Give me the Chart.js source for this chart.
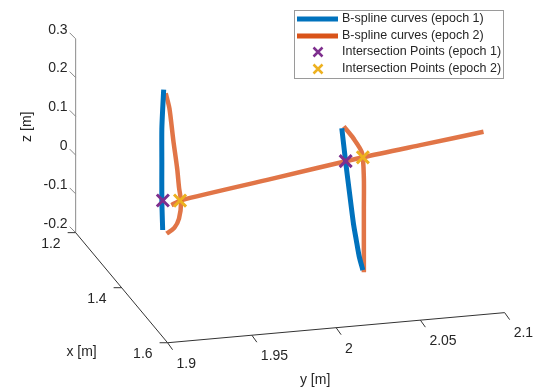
<!DOCTYPE html>
<html>
<head>
<meta charset="utf-8">
<script src="https://cdn.jsdelivr.net/npm/chart.js@4.4.1/dist/chart.umd.min.js"></script>
<style>
  html, body { margin: 0; padding: 0; background: #fff; }
  canvas { display: block; }
</style>
</head>
<body>
<canvas id="chart" width="542" height="390"></canvas>
<script>
// axis limits and tick values (metres)
const xLim = [1.2, 1.6];
const yLim = [1.9, 2.1];
const zLim = [-0.2, 0.3];
const xTicks = [1.2, 1.4, 1.6];
const yTicks = [1.9, 1.95, 2, 2.05, 2.1];
const zTicks = [-0.2, -0.1, 0, 0.1, 0.2, 0.3];
const xTickLabels = ["1.2", "1.4", "1.6"];
const yTickLabels = ["1.9", "1.95", "2", "2.05", "2.1"];
const zTickLabels = ["-0.2", "-0.1", "0", "0.1", "0.2", "0.3"];

// B-spline curves, epoch 1 : [x, y, z]
const epoch1Left = [
  [1.3, 1.9386, 0.225], [1.3, 1.9381, 0.184], [1.3, 1.9375, 0.123],
  [1.3, 1.9375, 0.038], [1.3, 1.9375, -0.059], [1.3, 1.9380, -0.137]
];
const epoch1Right = [
  [1.5, 2.0170, 0.237], [1.5, 2.0193, 0.149], [1.5, 2.0216, 0.068],
  [1.5, 2.0239, -0.011], [1.5, 2.0256, -0.055], [1.5, 2.0273, -0.097],
  [1.5, 2.0295, -0.134]
];
// B-spline curves, epoch 2
const epoch2Left = [
  [1.3, 1.9398, 0.215], [1.3, 1.9420, 0.175], [1.3, 1.9443, 0.092],
  [1.3, 1.9466, 0.018], [1.3, 1.9477, -0.031], [1.3, 1.9489, -0.070],
  [1.3, 1.9477, -0.111], [1.3, 1.9449, -0.134], [1.3, 1.9403, -0.147]
];
const epoch2Right = [
  [1.5, 2.0182, 0.241], [1.5, 2.0239, 0.208], [1.5, 2.0290, 0.169],
  [1.5, 2.0301, 0.103], [1.5, 2.0301, 0.023], [1.5, 2.0301, -0.057],
  [1.5, 2.0301, -0.140]
];
const epoch2Long = [
  [1.3, 1.9432, -0.075], [1.3, 1.9483, -0.065], [1.4, 1.9889, 0.046],
  [1.5, 2.0295, 0.157], [1.5, 2.0650, 0.176], [1.5, 2.1011, 0.195]
];
// intersection points
const inter1 = [[1.3, 1.9381, -0.061], [1.5, 2.0193, 0.151]];
const inter2 = [[1.3, 1.9483, -0.065], [1.5, 2.0295, 0.157]];

const legendLabels = [
  "B-spline curves (epoch 1)",
  "B-spline curves (epoch 2)",
  "Intersection Points (epoch 1)",
  "Intersection Points (epoch 2)"
];

const blue = "rgb(0,114,189)";
const orange = "rgba(217,83,25,0.8)";
const purple = "rgb(126,47,142)";
const yellow = "rgb(237,177,32)";
const textColor = "#262626";
const font = "14px 'Liberation Sans', Arial, sans-serif";

// camera: pixel offset of each full axis range from the (xmin,ymin,zmin) corner
const view = { ox: 67, oy: 235, vx: [96, 117], vy: [352, -32], vz: [0, -206] };

function project(p) {
  const fx = (p[0] - xLim[0]) / (xLim[1] - xLim[0]);
  const fy = (p[1] - yLim[0]) / (yLim[1] - yLim[0]);
  const fz = (p[2] - zLim[0]) / (zLim[1] - zLim[0]);
  return {
    x: view.ox + fx * view.vx[0] + fy * view.vy[0] + fz * view.vz[0],
    y: view.oy + fx * view.vx[1] + fy * view.vy[1] + fz * view.vz[1]
  };
}

function lineSet(label, pts, color, width, order) {
  return {
    label: label,
    data: pts.map(project),
    showLine: true,
    borderColor: color,
    backgroundColor: color,
    borderWidth: width,
    pointRadius: 0,
    tension: 0.25,
    order: order
  };
}

function markSet(label, pts, color) {
  return {
    label: label,
    data: pts.map(project),
    showLine: false,
    pointStyle: "crossRot",
    pointRadius: 8.5,
    pointBorderWidth: 3,
    borderColor: color,
    backgroundColor: color,
    order: 0
  };
}

// draw 3D box axes, ticks and labels under the data
const axesPlugin = {
  id: "axes3d",
  beforeDatasetsDraw(chart) {
    const ctx = chart.ctx;
    const sx = chart.scales.x, sy = chart.scales.y;
    const px = (p) => { const q = project(p); return [sx.getPixelForValue(q.x), sy.getPixelForValue(q.y)]; };
    ctx.save();
    ctx.lineWidth = 1;
    const seg = (a, b, dx, dy) => {
      ctx.beginPath();
      ctx.moveTo(a[0], a[1]);
      ctx.lineTo(b[0] + (dx || 0), b[1] + (dy || 0));
      ctx.stroke();
    };
    // z axis at (xmin, ymin)
    ctx.strokeStyle = "#8a8a8a";
    seg(px([xLim[0], yLim[0], zLim[0]]), px([xLim[0], yLim[0], zLim[1]]));
    zTicks.forEach((t) => { const a = px([xLim[0], yLim[0], t]); seg(a, a, -6, -6); });
    ctx.strokeStyle = "#333";
    // x axis at (ymin, zmin)
    seg(px([xLim[0], yLim[0], zLim[0]]), px([xLim[1], yLim[0], zLim[0]]));
    xTicks.forEach((t) => { const a = px([t, yLim[0], zLim[0]]); seg(a, a, -8, 0); });
    // y axis at (xmax, zmin)
    seg(px([xLim[1], yLim[0], zLim[0]]), px([xLim[1], yLim[1], zLim[0]]));
    yTicks.forEach((t) => { const a = px([xLim[1], t, zLim[0]]); seg(a, a, 5, 7); });

    ctx.fillStyle = textColor;
    ctx.font = font;
    ctx.textBaseline = "middle";
    ctx.textAlign = "right";
    zTicks.forEach((t, i) => { const a = px([xLim[0], yLim[0], t]); ctx.fillText(zTickLabels[i], a[0] - 8, a[1] - 9); });
    xTicks.forEach((t, i) => { const a = px([t, yLim[0], zLim[0]]); ctx.fillText(xTickLabels[i], a[0] - 15, a[1] + 11); });
    ctx.textAlign = "left";
    yTicks.forEach((t, i) => { const a = px([xLim[1], t, zLim[0]]); ctx.fillText(yTickLabels[i], a[0] + 9, a[1] + 21); });

    // axis titles
    ctx.textAlign = "center";
    const xm = px([1.6, yLim[0], zLim[0]]);
    ctx.fillText("x [m]", xm[0] - 86, xm[1] + 9);
    const ym = px([xLim[1], 2.0, zLim[0]]);
    ctx.fillText("y [m]", ym[0] - 21, ym[1] + 52);
    const zm = px([xLim[0], yLim[0], 0.05]);
    ctx.save();
    ctx.translate(zm[0] - 49, zm[1] - 9);
    ctx.rotate(-Math.PI / 2);
    ctx.fillText("z [m]", 0, 0);
    ctx.restore();
    ctx.restore();
  }
};

// MATLAB-style legend box, top right
const legendPlugin = {
  id: "boxLegend",
  afterDraw(chart) {
    const ctx = chart.ctx;
    const left = 294, top = 10, w = 209, h = 68;
    ctx.save();
    ctx.fillStyle = "#fff";
    ctx.fillRect(left, top, w, h);
    ctx.strokeStyle = "#9a9a9a";
    ctx.lineWidth = 1;
    ctx.strokeRect(left + 0.5, top + 0.5, w, h);
    const rows = [19, 36, 52, 69];
    const colors = [blue, "rgb(217,83,25)", purple, yellow];
    ctx.font = "12.5px 'Liberation Sans', Arial, sans-serif";
    ctx.textBaseline = "middle";
    rows.forEach((ry, i) => {
      ctx.strokeStyle = colors[i];
      if (i < 2) {
        ctx.lineWidth = 5;
        ctx.beginPath();
        ctx.moveTo(297, ry);
        ctx.lineTo(338, ry);
        ctx.stroke();
      } else {
        ctx.lineWidth = 2.5;
        const c = 318, r = 4.5;
        ctx.beginPath();
        ctx.moveTo(c - r, ry - r); ctx.lineTo(c + r, ry + r);
        ctx.moveTo(c - r, ry + r); ctx.lineTo(c + r, ry - r);
        ctx.stroke();
      }
      ctx.fillStyle = textColor;
      ctx.fillText(legendLabels[i], 342, ry);
    });
    ctx.restore();
  }
};

new Chart(document.getElementById("chart"), {
  type: "scatter",
  data: {
    datasets: [
      lineSet(legendLabels[0], epoch1Left, blue, 5, 1),
      lineSet(legendLabels[0], epoch1Right, blue, 5, 1),
      lineSet(legendLabels[1], epoch2Left, orange, 4.5, 2),
      lineSet(legendLabels[1], epoch2Right, orange, 4.5, 2),
      lineSet(legendLabels[1], epoch2Long, orange, 4.5, 2),
      markSet(legendLabels[2], inter1, purple),
      markSet(legendLabels[3], inter2, yellow)
    ]
  },
  options: {
    responsive: false,
    animation: false,
    devicePixelRatio: 1,
    layout: { padding: 0 },
    scales: {
      x: { type: "linear", min: 0, max: 542, display: false },
      y: { type: "linear", min: 0, max: 390, reverse: true, display: false }
    },
    plugins: { legend: { display: false }, tooltip: { enabled: false } }
  },
  plugins: [axesPlugin, legendPlugin]
});
</script>
</body>
</html>
